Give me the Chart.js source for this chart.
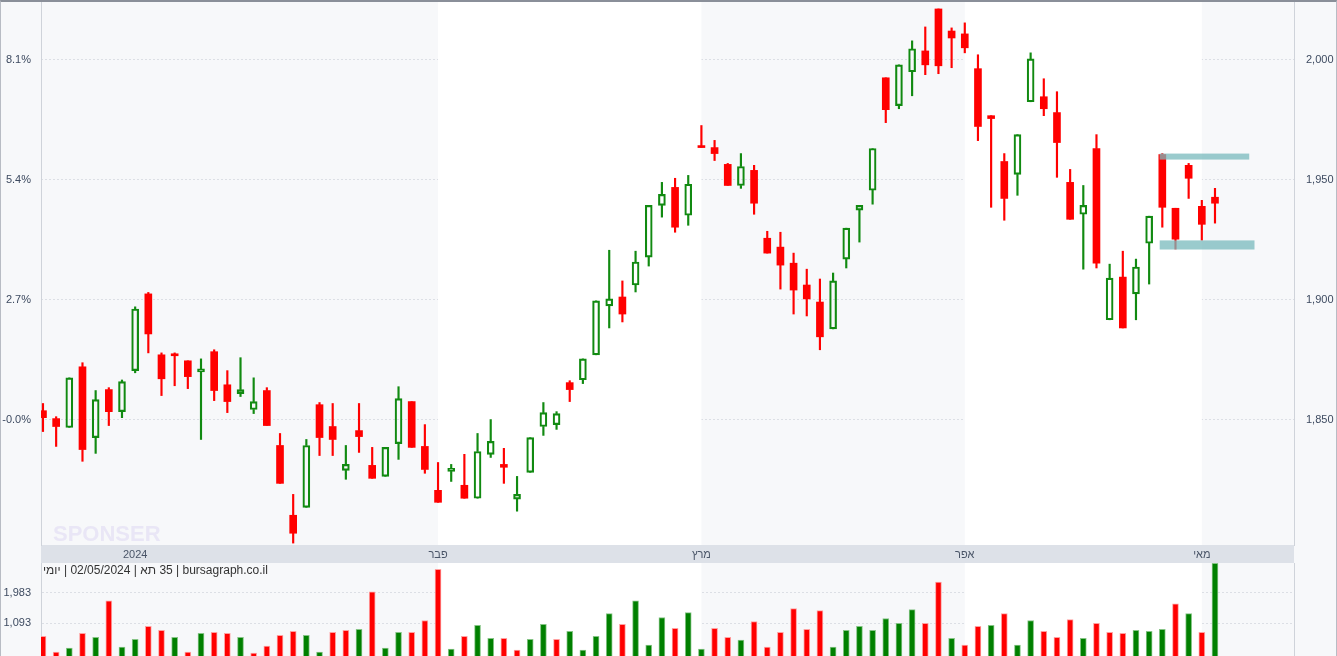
<!DOCTYPE html>
<html><head><meta charset="utf-8">
<script src="https://cdn.jsdelivr.net/npm/chart.js@4.4.1/dist/chart.umd.min.js"></script>
<style>
html,body{margin:0;padding:0;background:#f7f8fa;}
#wrap{position:relative;width:1335px;height:654px;border:1px solid #b8bcc4;border-top:2px solid #8a8f99;overflow:hidden;background:#f7f8fa;}
#c1{position:absolute;left:0;top:0;}
#c2{position:absolute;left:0;top:561px;}
</style></head><body>
<div id="wrap"><canvas id="c1" width="1335" height="561"></canvas><canvas id="c2" width="1335" height="93"></canvas></div>
<script>
// ---- data ----
const openP  = [1853.7,1850.4,1846.7,1872.0,1842.5,1862.5,1853.3,1870.4,1902.4,1877.0,1877.4,1874.5,1869.9,1878.3,1864.5,1860.8,1854.2,1862.1,1839.2,1810.1,1813.4,1856.2,1847.1,1828.8,1845.4,1830.9,1826.3,1840.0,1857.5,1838.8,1820.5,1828.4,1822.6,1817.2,1835.5,1831.3,1816.8,1828.0,1847.1,1847.9,1865.4,1866.6,1877.0,1897.4,1901.1,1906.1,1917.7,1939.3,1946.8,1935.2,1963.9,1963.4,1956.4,1947.6,1953.9,1925.6,1921.9,1915.2,1906.1,1899.0,1887.8,1916.9,1937.3,1945.6,1992.5,1980.9,1995.0,2003.7,2021.2,2012.0,2010.8,1996.3,1976.7,1957.6,1952.2,1982.5,1984.6,1978.0,1948.9,1935.6,1963.0,1891.6,1909.4,1902.4,1923.5,1960.5,1938.1,1956.0,1938.9,1942.7];
const closeP = [1850.8,1847.1,1867.4,1837.5,1858.3,1853.3,1865.8,1896.1,1885.7,1867.0,1876.6,1867.9,1871.2,1862.1,1857.5,1862.5,1857.5,1847.5,1823.4,1802.6,1839.2,1842.5,1841.7,1831.3,1842.9,1825.5,1838.4,1858.7,1838.4,1829.2,1815.5,1829.7,1817.2,1836.7,1840.9,1830.1,1818.8,1842.5,1852.9,1852.5,1862.5,1875.3,1899.5,1900.3,1894.0,1915.7,1939.3,1943.9,1930.2,1948.1,1963.4,1960.9,1947.6,1955.5,1940.2,1919.4,1914.4,1904.0,1900.3,1884.5,1907.8,1929.8,1939.3,1963.0,1979.2,1997.9,2004.6,1997.9,1997.5,2009.1,2005.0,1972.2,1975.5,1942.2,1968.8,2000.4,1979.6,1965.5,1933.5,1939.3,1915.2,1909.0,1888.2,1913.6,1934.8,1938.5,1925.2,1950.6,1931.4,1940.2];
const highP  = [1856.7,1851.2,1867.4,1873.7,1862.1,1863.3,1866.5,1897.0,1903.0,1877.8,1877.8,1874.5,1875.3,1879.1,1870.4,1875.8,1867.4,1863.3,1844.2,1818.8,1841.7,1857.1,1856.7,1839.2,1856.7,1838.4,1838.4,1863.7,1857.5,1847.9,1832.1,1831.3,1835.5,1844.2,1850.0,1838.0,1826.3,1842.5,1857.1,1853.3,1866.2,1875.3,1899.5,1920.6,1907.8,1920.2,1939.3,1948.9,1950.6,1951.8,1972.6,1966.4,1956.8,1960.9,1956.0,1928.5,1928.1,1919.4,1912.7,1908.6,1911.1,1929.8,1939.3,1963.0,1992.5,1997.9,2007.9,2013.7,2021.2,2013.3,2015.4,2002.1,1976.7,1960.9,1968.8,2002.9,1992.1,1986.7,1954.3,1947.6,1968.8,1914.8,1920.2,1916.9,1934.8,1960.9,1938.1,1956.8,1941.4,1946.4];
const lowP   = [1845.0,1838.8,1846.7,1832.6,1835.9,1847.5,1850.8,1869.5,1877.8,1860.0,1864.1,1862.9,1841.7,1857.9,1852.9,1859.6,1852.5,1847.5,1823.4,1798.5,1813.4,1835.0,1835.0,1825.1,1836.3,1825.5,1826.3,1833.4,1838.4,1827.6,1815.5,1824.2,1817.2,1817.2,1834.2,1823.4,1811.8,1828.0,1843.4,1845.9,1857.5,1865.0,1877.0,1888.2,1890.7,1903.2,1914.0,1934.4,1928.1,1931.0,1963.4,1958.0,1947.6,1946.4,1935.6,1919.4,1904.4,1894.0,1893.2,1879.1,1887.8,1913.2,1924.0,1939.8,1973.8,1979.6,1985.0,1993.8,1994.2,1996.7,2002.9,1966.3,1938.5,1933.1,1943.5,1982.5,1976.7,1951.0,1933.5,1912.7,1913.2,1891.6,1888.2,1891.6,1906.5,1930.2,1921.1,1942.2,1924.8,1931.9];
const volume = [718,258,373,804,689,1751,402,631,1005,890,689,258,804,832,804,689,230,431,746,861,746,258,832,890,918,2009,373,832,832,1177,2669,344,718,1033,660,660,316,631,1062,631,861,316,718,1378,1062,1751,459,1263,947,1406,344,947,689,603,1148,402,832,1521,918,1464,402,890,1005,890,1234,1091,1492,1091,2296,660,459,1005,1033,1378,459,1177,861,689,1205,660,1091,832,804,890,861,918,1665,1378,832,2841];
const volUp  = "rrgrgrggrrgrgrrgrrrrggrrgrggrrrgrggrrggrggggrgggrggrrgrrrrrrgggggggrrgrrgrggrrrgrrrgggrgrg";
const monthLabels = ["2024","פבר","מרץ","אפר","מאי"];
const monthIdx    = [7,30,50,70,88];
const bandEdges   = [30,50,70,88];          // alternating month shading boundaries
const priceTicks  = [1850,1900,1950,2000];
const pctTicks    = [-0.0,2.7,5.4,8.1];
const volTicks    = [1093,1983];
const basePrice   = 1850;
const zoneLow     = [1920.9,1958.4];
const zoneHigh    = [1924.7,1960.9];
const zoneFrom    = [84.8,84.8];
const zoneTo      = [92.0,91.6];
const infoParts   = ["יומי"," | 02/05/2024 | ","תא"," 35 | bursagraph.co.il"];

// ---- setup ----
const GREEN='#118a11', RED='#ff0000';
const N = openP.length;
const XMIN=-0.15, XMAX=95;
const PMIN=1797.7, PMAX=2024.1;
const idx=[...Array(N).keys()];
const up = idx.map(i=>closeP[i]>=openP[i]);
const fontFam='"Liberation Sans", Arial, sans-serif';
const tickColor='#3d4a60';

function bandPlugin(){
  return {id:'bands',beforeDatasetsDraw(ch){
    const {ctx,chartArea:a,scales:{x}}=ch;
    ctx.save();
    ctx.fillStyle='#ffffff';
    for(let k=0;k<bandEdges.length;k+=2){
      const x0=x.getPixelForValue(bandEdges[k]);
      const x1=k+1<bandEdges.length?x.getPixelForValue(bandEdges[k+1]):a.right;
      ctx.fillRect(x0,a.top,x1-x0,a.bottom-a.top);
    }
    ctx.restore();
  }};
}
function noPad(s){s.paddingTop=0;s.paddingBottom=0;s.paddingLeft=0;s.paddingRight=0;}

const wickLoUp = idx.map(i=>({x:i,y:[lowP[i],Math.min(openP[i],closeP[i])]}));
const wickHiUp = idx.map(i=>({x:i,y:[Math.max(openP[i],closeP[i]),highP[i]]}));
const wickCol = idx.map(i=>up[i]?GREEN:RED);

const watermark={id:'wm',beforeDatasetsDraw(ch){
  const {ctx,chartArea:a}=ch;ctx.save();
  ctx.font='bold 22px '+fontFam;ctx.fillStyle='rgba(170,150,230,0.18)';
  ctx.fillText('SPONSER',52,a.bottom-4);
  ctx.restore();
}};
const axisBand={id:'axband',beforeDraw(ch){
  const {ctx,chartArea:a}=ch;ctx.save();
  ctx.fillStyle='#dde1e8';ctx.fillRect(a.left,a.bottom,a.right-a.left,18);
  ctx.restore();
}};
const zones={id:'zones',afterDatasetsDraw(ch){
  const {ctx,scales:{x,y}}=ch;ctx.save();
  ctx.fillStyle='rgba(120,185,188,0.75)';
  for(let k=0;k<zoneLow.length;k++){
    const x0=x.getPixelForValue(zoneFrom[k]),x1=x.getPixelForValue(zoneTo[k]);
    const y0=y.getPixelForValue(zoneHigh[k]),y1=y.getPixelForValue(zoneLow[k]);
    ctx.fillRect(x0,y0,x1-x0,y1-y0);
  }
  ctx.restore();
}};

new Chart(document.getElementById('c1'),{
  type:'bar',
  data:{datasets:[
    {data:wickLoUp,backgroundColor:wickCol,barThickness:1.5,grouped:false,yAxisID:'y'},
    {data:wickHiUp,backgroundColor:wickCol,barThickness:1.5,grouped:false,yAxisID:'y'},
    {data:idx.map(i=>({x:i,y:[openP[i],closeP[i]]})),
     backgroundColor:idx.map(i=>up[i]?'rgba(0,0,0,0)':RED),
     borderColor:idx.map(i=>up[i]?GREEN:RED),
     borderWidth:idx.map(i=>up[i]?1.5:0),borderSkipped:false,
     barThickness:7,minBarLength:2,grouped:false,yAxisID:'y'}
  ]},
  options:{responsive:false,animation:false,devicePixelRatio:1,
    layout:{padding:0,autoPadding:false},
    plugins:{legend:{display:false},tooltip:{enabled:false}},
    scales:{
      x:{type:'linear',min:XMIN,max:XMAX,offset:false,position:'bottom',
         grid:{display:false,drawTicks:false,tickLength:0},border:{display:false},
         afterFit(s){s.height=18;noPad(s);},
         afterBuildTicks(s){s.ticks=monthIdx.map(v=>({value:v}));},
         ticks:{autoSkip:false,maxRotation:0,padding:3,color:'#4a5568',font:{size:11,family:fontFam},
           callback:(v)=>monthLabels[monthIdx.indexOf(v)]}},
      y:{type:'linear',position:'right',min:PMIN,max:PMAX,
         afterFit(s){s.width=42;noPad(s);},
         afterBuildTicks(s){s.ticks=priceTicks.map(v=>({value:v}));},
         grid:{color:'#dcdfe5',drawTicks:false,tickLength:0},border:{display:true,color:'#cfd3da',dash:[2,2]},
         ticks:{padding:12,color:tickColor,font:{size:11,family:fontFam},callback:v=>v.toLocaleString('en-US')}},
      yp:{type:'linear',position:'left',min:(PMIN/basePrice-1)*100,max:(PMAX/basePrice-1)*100,
         afterFit(s){s.width=40;noPad(s);},
         afterBuildTicks(s){s.ticks=pctTicks.map(v=>({value:v}));},
         grid:{display:false,drawTicks:false,tickLength:0},border:{display:true,color:'#cfd3da'},
         ticks:{padding:10,color:tickColor,font:{size:11,family:fontFam},
           callback:v=>(v===0?'-0.0':v.toFixed(1))+'%'}}
    }},
  plugins:[axisBand,bandPlugin(),watermark,zones]
});

const infoPlugin={id:'info',afterDraw(ch){
  const {ctx,chartArea:a}=ch;ctx.save();
  ctx.font='12px '+fontFam;ctx.fillStyle='#333';ctx.textBaseline='middle';
  let xx=a.left+2;
  for(const p of infoParts){ctx.fillText(p,xx,a.top+8);xx+=ctx.measureText(p).width;}
  ctx.restore();
}};
new Chart(document.getElementById('c2'),{
  type:'bar',
  data:{datasets:[{data:idx.map(i=>({x:i,y:volume[i]})),
    backgroundColor:idx.map(i=>volUp[i]==='g'?'#008000':RED),
    borderColor:idx.map(i=>volUp[i]==='g'?'rgba(120,190,120,0.9)':'rgba(255,150,150,0.9)'),
    borderWidth:1,barThickness:6,yAxisID:'y'}]},
  options:{responsive:false,animation:false,devicePixelRatio:1,
    layout:{padding:0,autoPadding:false},
    plugins:{legend:{display:false},tooltip:{enabled:false}},
    scales:{
      x:{type:'linear',min:XMIN,max:XMAX,offset:false,display:false},
      y:{type:'linear',position:'left',min:143,max:2850,
         afterFit(s){s.width=40;noPad(s);},
         afterBuildTicks(s){s.ticks=volTicks.map(v=>({value:v}));},
         grid:{color:'#dcdfe5',drawTicks:false,tickLength:0},border:{display:true,color:'#cfd3da',dash:[2,2]},
         ticks:{padding:10,color:tickColor,font:{size:11,family:fontFam},callback:v=>v.toLocaleString('en-US')}},
      yr:{type:'linear',position:'right',min:0,max:1,afterFit(s){s.width=42;noPad(s);},
         grid:{display:false,drawTicks:false},border:{display:true,color:'#cfd3da'},ticks:{display:false}}
    }},
  plugins:[bandPlugin(),infoPlugin]
});
</script></body></html>
